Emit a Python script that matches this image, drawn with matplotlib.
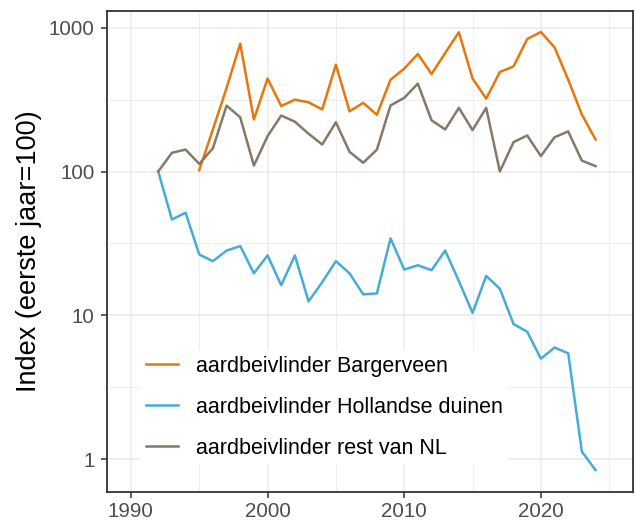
import matplotlib.pyplot as plt
import numpy as np
from matplotlib.ticker import FixedLocator, NullFormatter

plt.rcParams["font.family"] = ["Liberation Sans", "DejaVu Sans"]

OUT_PNG = "out.png"

years = list(range(1992, 2025))
years_barger = list(range(1995, 2025))

bargerveen = [102, 196, 381, 774, 230, 443, 285, 316, 303, 270, 553, 262, 300, 248,
              435, 519, 656, 476, 667, 929, 443, 321, 492, 538, 834, 933, 730, 435,
              249, 167]
hollandse_duinen = [100, 46.4, 51.7, 26.5, 23.8, 28.2, 30.3, 19.6, 26.1, 16.2, 26.1,
                    12.5, 17.0, 23.8, 19.6, 14.0, 14.2, 34.3, 20.8, 22.3, 20.6, 28.2,
                    17.3, 10.4, 18.8, 15.3, 8.7, 7.7, 5.0, 5.97, 5.45, 1.13, 0.84]
rest_nl = [100, 135, 142, 113, 145, 287, 238, 110, 176, 245, 222, 183, 154, 220, 137,
           115, 142, 288, 325, 408, 227, 196, 277, 194, 277, 100, 160, 178, 128, 173,
           190, 119, 109]

labels = ["aardbeivlinder Bargerveen", "aardbeivlinder Hollandse duinen",
          "aardbeivlinder rest van NL"]
colors = ["#E8760A", "#45ADD5", "#877868"]

fig = plt.figure(figsize=(6.35, 5.23), dpi=100)
ax = fig.add_axes([0.1685, 0.0593, 0.8285, 0.9197])

ax.plot(years_barger, bargerveen, color=colors[0], lw=1.8, label=labels[0])
ax.plot(years, hollandse_duinen, color=colors[1], lw=1.8, label=labels[1])
ax.plot(years, rest_nl, color=colors[2], lw=1.8, label=labels[2])

ax.set_yscale("log")
ax.set_xlim(1988.25, 2026.75)
ax.set_ylim(10 ** -0.228, 10 ** 3.116)

ax.xaxis.set_major_locator(FixedLocator([1990, 2000, 2010, 2020]))
ax.xaxis.set_minor_locator(FixedLocator([1995, 2005, 2015, 2025]))
ax.yaxis.set_major_locator(FixedLocator([1, 10, 100, 1000]))
ax.yaxis.set_minor_locator(FixedLocator([10 ** -0.5 * 10 ** k for k in range(0, 5)]))
ax.yaxis.set_minor_formatter(NullFormatter())
ax.set_yticklabels(["1", "10", "100", "1000"])

ax.grid(True, which="major", color="#EBEBEB", lw=1.1, zorder=0)
ax.grid(True, which="minor", color="#EBEBEB", lw=0.6, zorder=0)
ax.set_axisbelow(True)
ax.tick_params(which="major", length=4.5, width=1.1, color="#333333",
               labelsize=14.8, labelcolor="#4D4D4D", pad=2.5)
ax.tick_params(axis="y", which="major", pad=4.5)
ax.tick_params(which="minor", length=0)
for s in ax.spines.values():
    s.set_color("#333333")
    s.set_linewidth(1.3)

ax.set_ylabel("Index (eerste jaar=100)", fontsize=19.5, labelpad=5)

leg = ax.legend(loc="lower left", bbox_to_anchor=(0.063, 0.058), borderaxespad=0,
                frameon=True, fancybox=False, fontsize=15.5, handlelength=1.53,
                handletextpad=0.8, labelspacing=0.93, borderpad=0.25)
leg.get_frame().set_facecolor("white")
leg.get_frame().set_edgecolor("none")
leg.get_frame().set_alpha(1)

fig.savefig(OUT_PNG, dpi=100)
plt.close(fig)
